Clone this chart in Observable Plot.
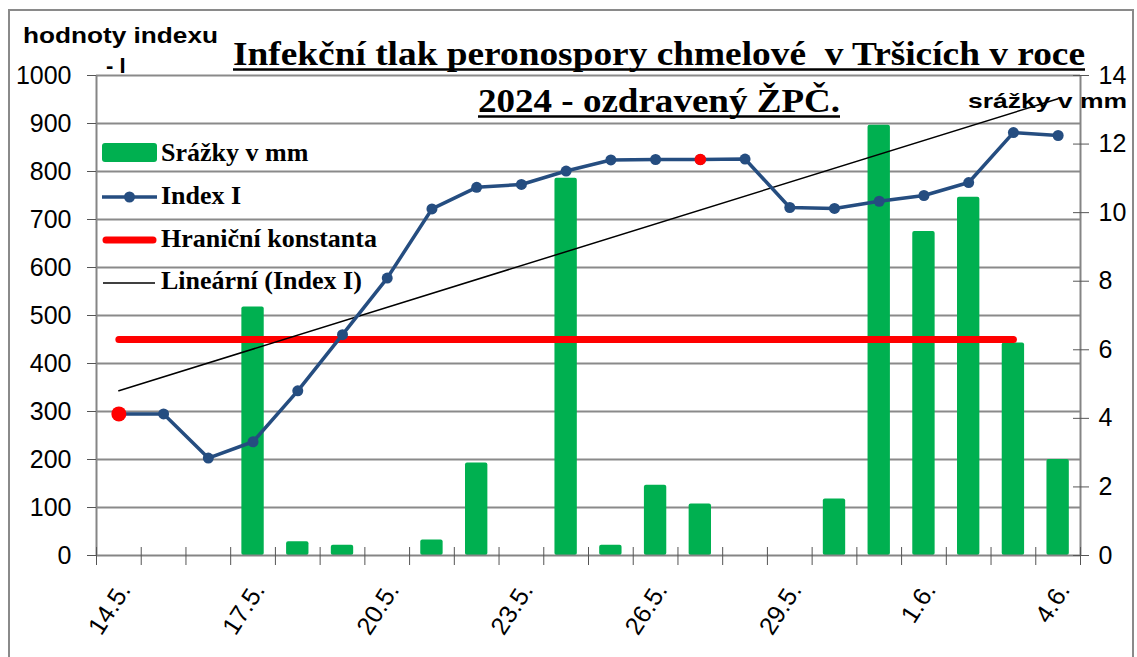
<!DOCTYPE html>
<html>
<head>
<meta charset="utf-8">
<script src="https://cdn.jsdelivr.net/npm/d3@7"></script>
<script src="https://cdn.jsdelivr.net/npm/@observablehq/plot@0.6"></script>
<style>
  body { margin: 0; background: #fff; }
  #wrap { width: 1137px; height: 657px; overflow: hidden; }
</style>
</head>
<body>
<div id="wrap"></div>
<script>
// ---- data ----
const days = ["14.5.","15.5.","16.5.","17.5.","18.5.","19.5.","20.5.","21.5.","22.5.","23.5.","24.5.",
              "25.5.","26.5.","27.5.","28.5.","29.5.","30.5.","31.5.","1.6.","2.6.","3.6.","4.6."];
const indexI = [295, 295, 203, 237, 343, 460, 578, 722, 767, 773, 801,
                824, 825, 825, 826, 725, 723, 738, 750, 777, 881, 875];
const rainMm = [0, 0, 0, 7.25, 0.4, 0.3, 0, 0.45, 2.7, 0, 11.0,
                0.3, 2.05, 1.5, 0, 0, 1.65, 12.55, 9.45, 10.45, 6.2, 2.8];
const limitConst = [450, 450, 450, 450, 450, 450, 450, 450, 450, 450, 450,
                    450, 450, 450, 450, 450, 450, 450, 450, 450, 450, null];
const redDays = ["14.5.", "27.5."];
const leftTicks = [0, 100, 200, 300, 400, 500, 600, 700, 800, 900, 1000];
const rightTicks = [0, 2, 4, 6, 8, 10, 12, 14];
const xLabels = ["14.5.", "17.5.", "20.5.", "23.5.", "26.5.", "29.5.", "1.6.", "4.6."];
const legendItems = ["Srážky v mm", "Index I", "Hraniční konstanta", "Lineární (Index I)"];
const titleLines = ["Infekční tlak peronospory chmelové  v Tršicích v roce", "2024 - ozdravený ŽPČ."];
const leftAxisTitle = ["hodnoty indexu", "- I"];
const rightAxisTitle = "srážky v mm";

// ---- build ----
const RAIN_MAX = 14, INDEX_MAX = 1000;
const k = INDEX_MAX / RAIN_MAX;
const blue = "#254D80";
const green = "#00B050";
const rows = days.map((day, i) => ({day, i, index: indexI[i], rain: rainMm[i], limit: limitConst[i]}));
const boundaries = d3.range(-0.5, days.length, 1);

const chart = Plot.plot({
  width: 1137,
  height: 657,
  marginLeft: 96,
  marginRight: 57,
  marginTop: 75,
  marginBottom: 102,
  x: {type: "linear", domain: [-0.5, days.length - 0.5], label: null},
  y: {domain: [0, INDEX_MAX], label: null},
  style: {fontFamily: "'Liberation Sans', Arial, sans-serif", fontSize: "25px", background: "white", color: "black", overflow: "visible"},
  marks: [
    Plot.ruleY(leftTicks.filter(v => v > 0), {stroke: "#8a8a8a", strokeWidth: 2}),
    Plot.rectY(rows.filter(d => d.rain > 0), {
      x1: d => d.i - 0.25, x2: d => d.i + 0.25, y1: 0, y2: d => d.rain * k, fill: green, rx: 2
    }),
    Plot.line(rows.filter(d => d.limit != null), {x: "i", y: "limit", stroke: "#FF0000", strokeWidth: 7, strokeLinecap: "round"}),
    Plot.linearRegressionY(rows, {x: "i", y: "index", stroke: "black", strokeWidth: 1.5, ci: 0}),
    Plot.line(rows, {x: "i", y: "index", stroke: blue, strokeWidth: 3.5}),
    Plot.dot(rows, {x: "i", y: "index", fill: blue, r: 5.5}),
    Plot.dot(rows.filter(d => d.day === redDays[0]), {x: "i", y: "index", fill: "#FF0000", r: 7.5}),
    Plot.dot(rows.filter(d => d.day === redDays[1]), {x: "i", y: "index", fill: "#FF0000", r: 5.8}),
    Plot.ruleX([-0.5, days.length - 0.5], {stroke: "#858585", strokeWidth: 2}),
    Plot.ruleY([0], {stroke: "#858585", strokeWidth: 2}),
    Plot.axisY(leftTicks, {anchor: "left", tickSize: 9, tickPadding: 16, stroke: "#555", tickFormat: v => String(v), label: null}),
    Plot.axisY(rightTicks.map(v => v * k), {
      anchor: "right", tickSize: 16, dx: -8, tickPadding: 10, stroke: "#555",
      tickFormat: v => String(Math.round(v / k)), label: null
    }),
    Plot.axisX(boundaries, {anchor: "bottom", tickSize: 18, dy: -8, stroke: "#555", tickFormat: () => "", label: null}),
    Plot.axisX(xLabels.map(l => days.indexOf(l)), {
      anchor: "bottom", tickSize: 0, tickPadding: 30, dx: 6, tickRotate: -57, fontSize: 25,
      tickFormat: i => days[i], label: null
    })
  ]
});

document.getElementById("wrap").appendChild(chart);

// ---- annotations: border, titles, legend ----
const svg = d3.select(chart);
const ann = svg.append("g").attr("text-anchor", "start");
ann.append("rect")
  .attr("x", 9).attr("y", 10).attr("width", 1124).attr("height", 700)
  .attr("fill", "none").attr("stroke", "#8a8a8a").attr("stroke-width", 2);

// left axis title
ann.append("text").text(leftAxisTitle[0])
  .attr("x", 23).attr("y", 43).attr("text-anchor", "start")
  .attr("textLength", 195).attr("lengthAdjust", "spacingAndGlyphs")
  .attr("font-family", "'Liberation Sans', Arial, sans-serif").attr("font-weight", "bold").attr("font-size", 22);
ann.append("text").text(leftAxisTitle[1])
  .attr("x", 106).attr("y", 73).attr("text-anchor", "start")
  .attr("font-family", "'Liberation Sans', Arial, sans-serif").attr("font-weight", "bold").attr("font-size", 22);

// right axis title
ann.append("text").text(rightAxisTitle)
  .attr("x", 1127).attr("y", 108).attr("text-anchor", "end")
  .attr("textLength", 159).attr("lengthAdjust", "spacingAndGlyphs")
  .attr("font-family", "'Liberation Sans', Arial, sans-serif").attr("font-weight", "bold").attr("font-size", 21);

// title
const titleSpecs = [{y: 65, len: 852, ul: 69.5}, {y: 112, len: 362, ul: 116.5}];
titleLines.forEach((t, j) => {
  const el = ann.append("text").text(t)
    .attr("x", 659).attr("y", titleSpecs[j].y).attr("text-anchor", "middle")
    .attr("textLength", titleSpecs[j].len).attr("lengthAdjust", "spacingAndGlyphs")
    .style("white-space", "pre")
    .attr("font-family", "'Liberation Serif', 'Times New Roman', serif").attr("font-weight", "bold").attr("font-size", 33);
  const bb = el.node().getBBox();
  ann.append("line")
    .attr("x1", bb.x).attr("x2", bb.x + bb.width)
    .attr("y1", titleSpecs[j].ul).attr("y2", titleSpecs[j].ul)
    .attr("stroke", "black").attr("stroke-width", 2.6);
});

// legend
const lg = ann.append("g");
const rowY = [161, 204, 247, 289];
lg.append("rect").attr("x", 102).attr("y", 143).attr("width", 55).attr("height", 19).attr("rx", 3).attr("fill", green);
lg.append("line").attr("x1", 102).attr("x2", 157).attr("y1", 197).attr("y2", 197).attr("stroke", blue).attr("stroke-width", 3.5);
lg.append("circle").attr("cx", 129.5).attr("cy", 197).attr("r", 5.5).attr("fill", blue);
lg.append("line").attr("x1", 106).attr("x2", 153).attr("y1", 240).attr("y2", 240).attr("stroke", "#FF0000").attr("stroke-width", 7).attr("stroke-linecap", "round");
lg.append("line").attr("x1", 103).attr("x2", 155).attr("y1", 283).attr("y2", 283).attr("stroke", "black").attr("stroke-width", 1.5);
legendItems.forEach((t, j) => {
  lg.append("text").text(t).attr("x", 161).attr("y", rowY[j]).attr("text-anchor", "start")
    .attr("font-family", "'Liberation Serif', 'Times New Roman', serif").attr("font-weight", "bold").attr("font-size", 26);
});
</script>
</body>
</html>
